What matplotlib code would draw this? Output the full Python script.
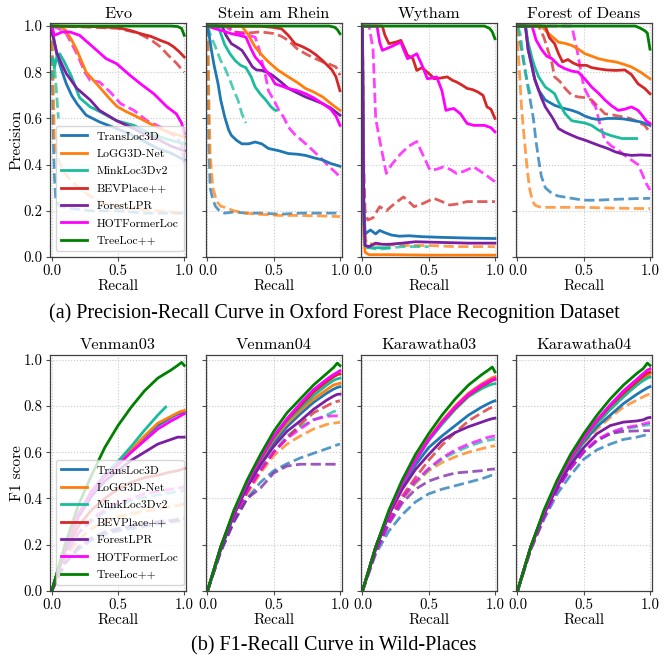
import numpy as np
import matplotlib
matplotlib.use("Agg")
import matplotlib.pyplot as plt

plt.rcParams['font.family'] = ['cmr10', 'DejaVu Serif']
plt.rcParams['axes.unicode_minus'] = False

METHODS = ['TransLoc3D', 'LoGG3D-Net', 'MinkLoc3Dv2', 'BEVPlace++', 'ForestLPR', 'HOTFormerLoc', 'TreeLoc++']
COLORS = {
    'TransLoc3D': '#1f77b4',
    'LoGG3D-Net': '#ff7f0e',
    'MinkLoc3Dv2': '#1abc9c',
    'BEVPlace++': '#d62728',
    'ForestLPR': '#7a1fa2',
    'HOTFormerLoc': '#ff00ff',
    'TreeLoc++': '#008000',
}

PR_TITLES = ['Evo', 'Stein am Rhein', 'Wytham', 'Forest of Deans']
F1_TITLES = ['Venman03', 'Venman04', 'Karawatha03', 'Karawatha04']

# ---- precision-recall curves: method -> (recall, precision) ----
EVO_SOLID = {
    'TransLoc3D': ([0, .02, .04, .08, .11, .15, .19, .26, .36, .49, .6, .7, .8, .9, 1.0],
                   [1, .93, .87, .8, .75, .7, .664, .614, .585, .556, .53, .5, .47, .45, .42]),
    'LoGG3D-Net': ([0, .05, .1, .15, .19, .26, .36, .43, .49, .56, .62, .74, .87, 1.0],
                   [1, 1, .985, .94, .895, .8, .736, .69, .653, .63, .614, .578, .542, .52]),
    'MinkLoc3Dv2': ([0, .01, .02, .04, .06, .09, .15, .21, .29, .36, .49, .62, .74, .87, 1.0],
                    [.85, .86, .82, .87, .88, .85, .78, .69, .65, .63, .59, .57, .535, .51, .49]),
    'BEVPlace++': ([0, .3, .5, .6, .67, .75, .82, .88, .92, .96, 1.0],
                   [1, .998, .993, .98, .967, .955, .938, .925, .91, .89, .866]),
    'ForestLPR': ([0, .02, .04, .08, .11, .19, .29, .36, .49, .62, .69, .8, .9, 1.0],
                  [.98, .93, .88, .83, .794, .73, .68, .635, .59, .556, .535, .51, .48, .46]),
    'HOTFormerLoc': ([0, .02, .05, .08, .14, .21, .31, .41, .49, .59, .67, .77, .87, .94, .98, 1.0],
                     [1, .96, .967, .975, .974, .96, .91, .859, .837, .787, .75, .707, .65, .62, .58, .535]),
    'TreeLoc++': ([0, .9, .95, .98, 1.0], [1, 1, .998, .99, .96]),
}
EVO_DASHED = {
    'TransLoc3D': ([0, .005, .01, .02, .03, .06, .15, .3, .5, .7, 1.0],
                   [1, .8, .55, .35, .25, .22, .21, .2, .2, .19, .19]),
    'LoGG3D-Net': ([0, .005, .01, .02, .05, .1, .2, .3, .4, .6, .8, 1.0],
                   [1, .9, .8, .5, .42, .36, .3, .26, .23, .21, .2, .19]),
    'MinkLoc3Dv2': ([0, .01, .02, .03, .05],
                    [.8, .78, .82, .76, .6]),
    'BEVPlace++': ([0, .3, .5, .65, .75, .82, .88, .94, 1.0],
                   [1, .995, .99, .97, .94, .91, .873, .84, .8]),
    'HOTFormerLoc': ([0, .05, .11, .19, .25, .29, .36, .44, .52, .62, .72, .82, .94, .98, 1.0],
                     [1, .99, .967, .88, .8, .765, .758, .715, .664, .635, .59, .563, .52, .49, .39]),
}

STEIN_SOLID = {
    'TransLoc3D': ([0, .015, .03, .05, .08, .1, .13, .16, .18, .22, .26, .31, .36, .41, .46, .54, .61, .68, .74, .8, .87, .93, 1.0],
                   [1, .95, .895, .83, .75, .68, .607, .55, .527, .505, .49, .49, .498, .49, .47, .46, .448, .445, .44, .43, .42, .405, .393]),
    'LoGG3D-Net': ([0, .26, .31, .36, .41, .46, .53, .61, .68, .74, .8, .87, .93, 1.0],
                   [1, 1, .96, .909, .875, .845, .81, .78, .755, .73, .715, .693, .665, .635]),
    'MinkLoc3Dv2': ([0, .08, .13, .17, .21, .25, .29, .33, .36, .4, .44, .48, .51, .52],
                    [1, 1, .92, .88, .85, .83, .82, .78, .736, .705, .68, .65, .635, .635]),
    'BEVPlace++': ([0, .4, .49, .56, .61, .66, .72, .77, .82, .87, .94, .97, 1.0],
                   [1, .999, .995, .988, .96, .924, .91, .895, .875, .85, .81, .78, .72]),
    'ForestLPR': ([0, .11, .14, .18, .22, .26, .3, .34, .37, .41, .45, .49, .55, .61, .68, .74, .8, .87, .93, 1.0],
                  [1, 1, .96, .924, .91, .895, .86, .823, .81, .808, .8, .787, .76, .73, .71, .693, .68, .664, .645, .614]),
    'HOTFormerLoc': ([0, .05, .11, .18, .24, .29, .33, .36, .4, .44, .48, .51, .56, .61, .68, .74, .8, .87, .93, .97, 1.0],
                     [1, .99, .98, .967, .96, .952, .9, .866, .84, .808, .78, .75, .74, .73, .72, .707, .69, .664, .64, .61, .57]),
    'TreeLoc++': ([0, .92, .96, .98, 1.0], [1, 1, .995, .985, .967]),
}
STEIN_DASHED = {
    'TransLoc3D': ([0, .005, .01, .02, .04, .06, .09, .13, .2, .29, .4, .55, .7, .85, 1.0],
                   [1, .8, .5, .3, .25, .22, .2, .19, .195, .19, .19, .185, .19, .19, .19]),
    'LoGG3D-Net': ([0, .005, .01, .02, .04, .07, .1, .13, .2, .29, .4, .54, .7, .85, 1.0],
                   [1, .9, .7, .45, .3, .24, .22, .215, .2, .19, .185, .18, .18, .178, .175]),
    'MinkLoc3Dv2': ([0, .03, .06, .1, .13, .16, .2, .23, .26, .29],
                    [1, .95, .91, .85, .82, .78, .72, .68, .62, .58]),
    'BEVPlace++': ([0, .16, .2, .31, .4, .51, .56, .61, .68, .74, .81, .87, .92, .97, 1.0],
                   [1, 1, .974, .97, .975, .967, .955, .938, .9, .88, .86, .845, .835, .823, .787]),
    'HOTFormerLoc': ([0, .13, .2, .28, .36, .39, .41, .44, .46, .5, .54, .58, .61, .66, .71, .77, .82, .87, .92, .96, 1.0],
                     [1, 1, .975, .965, .952, .9, .85, .78, .72, .68, .635, .6, .563, .53, .506, .475, .448, .42, .39, .37, .347]),
}

WYTHAM_SOLID = {
    'TransLoc3D': ([0, .005, .01, .02, .06, .1, .13, .17, .22, .28, .35, .45, .6, .8, 1.0],
                   [1, .6, .25, .1, .117, .1, .115, .105, .095, .09, .092, .088, .085, .082, .08]),
    'LoGG3D-Net': ([0, .005, .01, .02, .05, .2, .5, 1.0],
                   [1, .5, .1, .02, .01, .01, .008, .008]),
    'MinkLoc3Dv2': ([0, .005, .01, .02, .04, .1, .2],
                    [1, .5, .15, .05, .04, .04, .04]),
    'BEVPlace++': ([0, .15, .17, .2, .25, .29, .32, .34, .38, .41, .45, .49, .52, .54, .59, .64, .68, .71, .75, .79, .83, .87, .91, .94, .97, 1.0],
                   [1, 1, .96, .924, .93, .938, .9, .873, .86, .808, .82, .8, .785, .772, .775, .78, .765, .758, .745, .73, .725, .715, .7, .65, .64, .6]),
    'ForestLPR': ([0, .005, .01, .02, .05, .1, .15, .2, .3, .4, .6, .8, 1.0],
                  [1, .6, .2, .05, .045, .06, .055, .055, .06, .066, .063, .06, .06]),
    'HOTFormerLoc': ([0, .11, .13, .15, .21, .25, .29, .31, .34, .38, .41, .45, .49, .53, .56, .6, .63, .66, .69, .74, .79, .84, .92, .97, 1.0],
                     [1, 1, .93, .895, .909, .92, .93, .9, .859, .87, .88, .83, .772, .775, .78, .72, .635, .64, .643, .62, .578, .57, .57, .56, .542]),
    'TreeLoc++': ([0, .92, .96, .98, 1.0], [1, 1, .99, .975, .945]),
}
WYTHAM_DASHED = {
    'LoGG3D-Net': ([0, .005, .01, .03, .1, .3, .5, .7, 1.0],
                   [1, .5, .15, .06, .055, .05, .05, .045, .045]),
    'MinkLoc3Dv2': ([0, .005, .01, .02, .06, .1, .15, .22, .3, .4, .5],
                    [1, .5, .15, .05, .04, .035, .035, .04, .045, .045, .045]),
    'BEVPlace++': ([0, .005, .01, .02, .04, .08, .13, .18, .24, .31, .35, .39, .45, .54, .6, .66, .72, .79, .87, 1.0],
                   [1, .7, .4, .2, .16, .17, .218, .2, .23, .26, .24, .218, .23, .254, .24, .225, .23, .24, .24, .24]),
    'HOTFormerLoc': ([0, .05, .08, .1, .13, .18, .22, .29, .35, .41, .45, .51, .56, .61, .66, .71, .76, .84, .92, 1.0],
                     [1, 1, .9, .6, .506, .362, .4, .448, .48, .5, .45, .376, .38, .39, .38, .362, .37, .39, .36, .326]),
}

DEANS_SOLID = {
    'TransLoc3D': ([0, .06, .08, .11, .13, .16, .21, .28, .34, .41, .46, .51, .56, .61, .68, .74, .8, .86, .93, 1.0],
                   [1, 1, .9, .823, .77, .722, .68, .657, .645, .635, .625, .61, .6, .595, .6, .6, .598, .592, .585, .57]),
    'LoGG3D-Net': ([0, .18, .23, .31, .36, .41, .46, .51, .56, .61, .68, .74, .8, .86, .93, 1.0],
                   [1, 1, .97, .93, .925, .916, .9, .88, .87, .859, .85, .845, .835, .823, .8, .772]),
    'MinkLoc3Dv2': ([0, .06, .08, .11, .13, .16, .21, .25, .28, .31, .36, .41, .46, .51, .56, .61, .66, .71, .79, .85, .9],
                    [1, 1, .93, .86, .823, .78, .736, .72, .707, .67, .62, .59, .585, .58, .57, .55, .535, .525, .513, .513, .513]),
    'BEVPlace++': ([0, .21, .24, .28, .31, .34, .38, .42, .46, .52, .56, .61, .67, .74, .81, .86, .91, .96, 1.0],
                   [1, 1, .95, .924, .88, .845, .855, .84, .83, .83, .82, .815, .81, .808, .81, .79, .75, .73, .707]),
    'ForestLPR': ([0, .06, .08, .11, .13, .16, .18, .21, .26, .31, .36, .41, .46, .51, .56, .61, .68, .74, .8, .86, .93, 1.0],
                  [1, 1, .9, .823, .77, .722, .69, .65, .607, .556, .54, .527, .515, .506, .495, .484, .47, .455, .445, .44, .442, .44]),
    'HOTFormerLoc': ([0, .11, .14, .18, .22, .26, .31, .36, .41, .46, .51, .56, .61, .66, .71, .76, .81, .86, .91, .94, .97, 1.0],
                     [1, 1, .94, .9, .87, .859, .83, .815, .805, .8, .77, .736, .71, .68, .655, .635, .64, .65, .635, .614, .59, .578]),
    'TreeLoc++': ([0, .89, .93, .96, .98, 1.0], [1, 1, .99, .98, .97, .9]),
}
DEANS_DASHED = {
    'TransLoc3D': ([0, .03, .06, .09, .12, .14, .16, .18, .21, .25, .3, .4, .5, .6, .75, .9, 1.0],
                   [1, .9, .8, .7, .6, .5, .42, .35, .3, .28, .265, .255, .246, .246, .25, .253, .254]),
    'LoGG3D-Net': ([0, .005, .01, .02, .03, .05, .07, .09, .11, .13, .16, .2, .3, .5, .7, .9, 1.0],
                   [1, .9, .85, .75, .65, .52, .4, .3, .25, .225, .218, .215, .215, .215, .212, .21, .21]),
    'MinkLoc3Dv2': ([0, .02, .04, .06, .08, .1],
                    [1, .97, .88, .8, .74, .7]),
    'BEVPlace++': ([0, .16, .2, .23, .26, .28, .32, .36, .41, .46, .51, .56, .61, .66, .72, .79, .85, .91, .96, 1.0],
                   [1, 1, .95, .895, .84, .78, .76, .73, .7, .693, .69, .68, .65, .62, .615, .607, .6, .585, .57, .54]),
    'HOTFormerLoc': ([0, .41, .45, .48, .5, .55, .59, .62, .66, .71, .76, .81, .86, .91, .94, .97, 1.0],
                     [1, 1, .895, .8, .736, .68, .65, .58, .506, .48, .463, .44, .42, .4, .362, .32, .29]),
}

PR_SOLID = [EVO_SOLID, STEIN_SOLID, WYTHAM_SOLID, DEANS_SOLID]
PR_DASHED = [EVO_DASHED, STEIN_DASHED, WYTHAM_DASHED, DEANS_DASHED]

# ---- F1-recall curves on a shared recall grid ----
F1_RECALL = [0, .1, .2, .3, .4, .5, .6, .7, .8, .9, .95, .98, 1.0]

VENMAN03_SOLID = {
    'TransLoc3D': [0, .19, .33, .43, .5, .55, .605, .665, .715, .75, .765, .77, .773],
    'LoGG3D-Net': [0, .19, .33, .43, .5, .555, .61, .67, .725, .755, .77, .777, .78],
    'BEVPlace++': [0, .17, .28, .35, .4, .44, .47, .49, .5, .515, .52, .525, .53],
    'ForestLPR': [0, .18, .32, .41, .475, .52, .565, .6, .635, .655, .665, .665, .665],
    'HOTFormerLoc': [0, .19, .33, .43, .495, .545, .6, .65, .7, .735, .75, .76, .766],
    'TreeLoc++': [0, .2, .37, .5, .62, .715, .795, .865, .92, .955, .975, .988, .975],
}
VENMAN03_MINKLOC = ([0, .1, .2, .3, .4, .5, .6, .7, .8, .86],
                    [0, .19, .33, .43, .505, .56, .625, .695, .76, .795])
VENMAN03_DASHED = {
    'TransLoc3D': [0, .12, .18, .22, .245, .26, .27, .28, .29, .298, .302, .305, .306],
    'LoGG3D-Net': [0, .14, .22, .27, .3, .32, .335, .345, .355, .365, .37, .373, .375],
    'MinkLoc3Dv2': [0, .15, .25, .3, .34, .37, .39, .405, .415, .425, .43, .433, .435],
    'ForestLPR': [0, .12, .19, .23, .255, .27, .28, .29, .3, .305, .31, .312, .313],
    'HOTFormerLoc': [0, .15, .25, .31, .35, .38, .4, .42, .43, .44, .445, .448, .45],
}

VENMAN04_SOLID = {
    'TransLoc3D': [0, .18, .33, .455, .555, .64, .71, .765, .815, .855, .872, .88, .883],
    'LoGG3D-Net': [0, .19, .34, .465, .565, .655, .725, .78, .83, .87, .89, .895, .898],
    'MinkLoc3Dv2': [0, .19, .34, .465, .565, .66, .735, .79, .845, .89, .91, .917, .92],
    'BEVPlace++': [0, .19, .34, .47, .57, .665, .74, .8, .86, .905, .925, .935, .938],
    'ForestLPR': [0, .18, .33, .45, .545, .625, .69, .735, .785, .825, .842, .85, .851],
    'HOTFormerLoc': [0, .19, .34, .47, .575, .67, .745, .81, .87, .915, .935, .945, .952],
    'TreeLoc++': [0, .19, .35, .48, .59, .69, .77, .83, .89, .94, .965, .985, .974],
}
VENMAN04_DASHED = {
    'TransLoc3D': [0, .17, .3, .4, .47, .52, .55, .575, .595, .615, .625, .632, .635],
    'LoGG3D-Net': [0, .18, .32, .42, .51, .585, .635, .67, .7, .72, .725, .728, .729],
    'MinkLoc3Dv2': [0, .18, .32, .43, .53, .6, .67, .71, .74, .76, .775, .78, .786],
    'BEVPlace++': [0, .18, .32, .43, .52, .6, .66, .72, .77, .8, .815, .82, .822],
    'ForestLPR': [0, .17, .3, .4, .445, .51, .54, .548, .548, .548, .548, .548, .548],
    'HOTFormerLoc': [0, .18, .32, .43, .52, .6, .66, .7, .74, .755, .757, .757, .757],
}

KARA03_SOLID = {
    'TransLoc3D': [0, .19, .33, .45, .545, .62, .67, .715, .76, .795, .81, .818, .822],
    'LoGG3D-Net': [0, .19, .34, .47, .57, .66, .735, .8, .855, .895, .912, .922, .926],
    'MinkLoc3Dv2': [0, .19, .34, .46, .56, .65, .72, .785, .84, .875, .888, .894, .896],
    'BEVPlace++': [0, .19, .34, .465, .565, .655, .728, .79, .845, .885, .9, .91, .914],
    'ForestLPR': [0, .18, .33, .44, .525, .59, .65, .685, .71, .73, .74, .745, .747],
    'HOTFormerLoc': [0, .19, .34, .465, .565, .655, .73, .795, .85, .89, .905, .914, .918],
    'TreeLoc++': [0, .19, .35, .48, .59, .68, .76, .83, .89, .935, .955, .968, .947],
}
KARA03_DASHED = {
    'TransLoc3D': [0, .16, .26, .33, .385, .42, .44, .455, .47, .485, .495, .502, .505],
    'LoGG3D-Net': [0, .17, .3, .395, .465, .52, .555, .58, .6, .615, .622, .626, .628],
    'MinkLoc3Dv2': [0, .17, .3, .4, .47, .525, .57, .6, .625, .645, .652, .655, .656],
    'BEVPlace++': [0, .18, .31, .41, .49, .565, .63, .685, .735, .77, .787, .795, .8],
    'ForestLPR': [0, .17, .29, .38, .44, .475, .495, .51, .515, .52, .525, .527, .527],
    'HOTFormerLoc': [0, .17, .3, .4, .475, .53, .575, .61, .635, .655, .665, .668, .67],
}

KARA04_SOLID = {
    'TransLoc3D': [0, .19, .34, .46, .56, .645, .71, .76, .81, .85, .868, .878, .883],
    'LoGG3D-Net': [0, .19, .34, .47, .57, .66, .73, .795, .85, .9, .922, .935, .94],
    'MinkLoc3Dv2': [0, .19, .34, .465, .565, .655, .725, .785, .84, .89, .91, .92, .925],
    'BEVPlace++': [0, .19, .34, .47, .57, .66, .735, .8, .855, .905, .928, .942, .946],
    'ForestLPR': [0, .19, .33, .45, .545, .62, .68, .715, .73, .735, .74, .748, .75],
    'HOTFormerLoc': [0, .19, .34, .47, .575, .665, .74, .805, .865, .915, .94, .955, .96],
    'TreeLoc++': [0, .19, .35, .48, .59, .68, .76, .83, .89, .94, .962, .985, .975],
}
KARA04_DASHED = {
    'TransLoc3D': [0, .18, .31, .42, .5, .57, .61, .635, .655, .665, .672, .676, .678],
    'LoGG3D-Net': [0, .19, .34, .46, .555, .64, .7, .75, .795, .825, .84, .848, .851],
    'MinkLoc3Dv2': [0, .18, .32, .44, .53, .6, .65, .68, .7, .71, .715, .718, .72],
    'BEVPlace++': [0, .19, .34, .465, .565, .655, .725, .785, .84, .89, .912, .925, .93],
    'ForestLPR': [0, .18, .32, .44, .53, .6, .65, .68, .69, .692, .693, .693, .693],
    'HOTFormerLoc': [0, .18, .32, .44, .53, .605, .655, .685, .705, .715, .722, .727, .729],
}

F1_SOLID = [VENMAN03_SOLID, VENMAN04_SOLID, KARA03_SOLID, KARA04_SOLID]
F1_DASHED = [VENMAN03_DASHED, VENMAN04_DASHED, KARA03_DASHED, KARA04_DASHED]


def style_axes(ax, title, ytop, first):
    ax.set_xlim(-0.011, 1.013)
    ax.set_ylim(0, ytop)
    ax.set_xticks([0, 0.5, 1.0])
    ax.set_yticks([0, 0.2, 0.4, 0.6, 0.8, 1.0])
    ax.set_xticklabels(['0.0', '0.5', '1.0'])
    if first:
        ax.set_yticklabels(['0.0', '0.2', '0.4', '0.6', '0.8', '1.0'])
    else:
        ax.set_yticklabels([])
    ax.tick_params(labelsize=10.7, length=3, width=0.8, color='0.3', pad=2.5)
    ax.grid(True, linestyle=':', color='#c8c8c8', linewidth=0.8)
    ax.set_axisbelow(True)
    for sp in ax.spines.values():
        sp.set_color('0.25')
        sp.set_linewidth(0.9)
    ax.set_title(title, fontsize=11.8, pad=4)
    ax.set_xlabel('Recall', fontsize=11, labelpad=1)


def add_legend(ax):
    ax.legend(loc='lower left', fontsize=8.4, handlelength=2.2, labelspacing=0.62,
              borderpad=0.45, framealpha=0.8)


fig = plt.figure(figsize=(6.68, 6.6), dpi=100)
lefts = [0.0753, 0.3084, 0.5404, 0.7725]
width = 0.2031

# (a) precision-recall
for i in range(4):
    ax = fig.add_axes([lefts[i], 0.6106, width, 0.3541])
    for name, (r, p) in PR_DASHED[i].items():
        ax.plot(r, p, '--', color=COLORS[name], lw=2, alpha=0.75)
    for name in METHODS:
        r, p = PR_SOLID[i][name]
        ax.plot(r, p, '-', color=COLORS[name], lw=2, label=name)
    style_axes(ax, PR_TITLES[i], 1.012, i == 0)
    if i == 0:
        ax.set_ylabel('Precision', fontsize=11, labelpad=0)
        add_legend(ax)

# (b) F1-recall
for i in range(4):
    ax = fig.add_axes([lefts[i], 0.1045, width, 0.3576])
    for name, vals in F1_DASHED[i].items():
        ax.plot(F1_RECALL, vals, '--', color=COLORS[name], lw=2, alpha=0.75)
    for name in METHODS:
        if i == 0 and name == 'MinkLoc3Dv2':
            r, v = VENMAN03_MINKLOC
        else:
            r, v = F1_RECALL, F1_SOLID[i][name]
        ax.plot(r, v, '-', color=COLORS[name], lw=2, label=name)
    style_axes(ax, F1_TITLES[i], 1.02, i == 0)
    if i == 0:
        ax.set_ylabel('F1 score', fontsize=11, labelpad=0)
        add_legend(ax)

fig.text(0.5, 1 - 313 / 660, '(a) Precision-Recall Curve in Oxford Forest Place Recognition Dataset',
         ha='center', va='center', fontsize=14.5, family='Liberation Serif')
fig.text(0.5, 1 - 646 / 660, '(b) F1-Recall Curve in Wild-Places',
         ha='center', va='center', fontsize=14.5, family='Liberation Serif')

fig.savefig('out.png', dpi=100)
